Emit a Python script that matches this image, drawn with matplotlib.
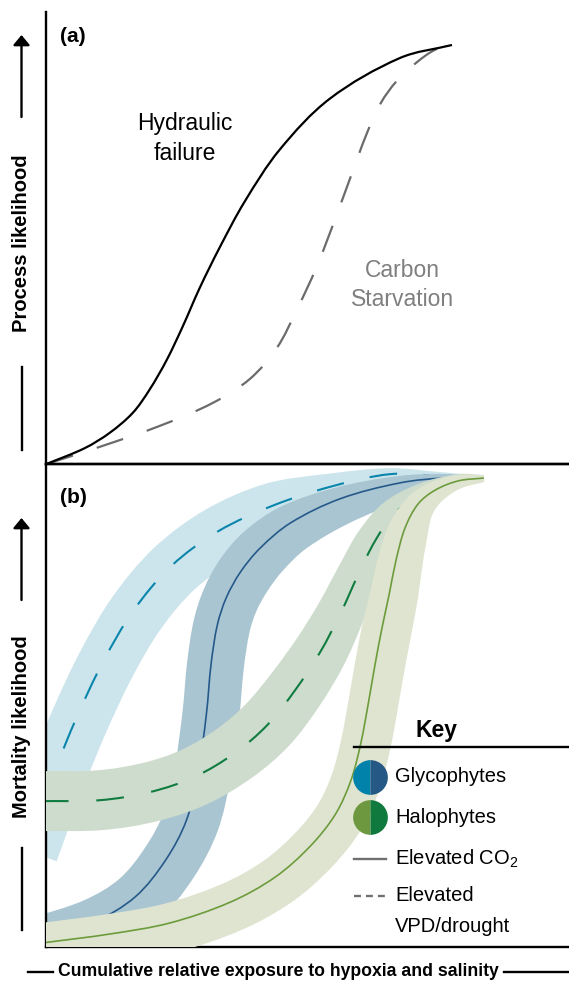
import numpy as np
import matplotlib
matplotlib.use("Agg")
import matplotlib.pyplot as plt
from matplotlib.path import Path
from matplotlib.patches import PathPatch
from matplotlib.lines import Line2D

plt.rcParams['font.family'] = ['Liberation Sans', 'DejaVu Sans']
plt.rcParams['mathtext.fontset'] = 'custom'
plt.rcParams['mathtext.rm'] = 'Liberation Sans'
plt.rcParams['mathtext.it'] = 'Liberation Sans:italic'
plt.rcParams['mathtext.bf'] = 'Liberation Sans:bold'
plt.rcParams['lines.scale_dashes'] = False

# ---------------- data (relative 0-100 scales) ----------------
# Panel (a): process likelihood vs. exposure
hydraulic_x = [0, 7.3, 12.1, 16.5, 19.7, 23.0, 26.1, 29.3, 33.1, 37.9, 44.6, 54.2, 67.6, 77.6]
hydraulic_y = [0, 3.5, 6.9, 11.3, 16.4, 23.0, 30.5, 38.9, 47.8, 58.0, 69.5, 80.8, 89.8, 92.7]
carbon_x = [0, 10.2, 21.6, 31.8, 38.9, 44.1, 47.9, 51.7, 55.6, 59.4, 61.5, 64.0,
            67.0, 70.9, 74.3, 77.6]
carbon_y = [0, 3.8, 8.4, 13.5, 18.8, 25.7, 34.1, 43.6, 55.3, 67.3, 73.7, 79.9,
            84.7, 88.9, 91.6, 92.7]

# Panel (b): mortality likelihood vs. exposure
gly_vpd_x = [-4.0, 1.4, 5.8, 10.8, 16.6, 23.9, 32.9, 43.6, 54.7, 65.8, 75.3, 83.7]
gly_vpd_y = [20.1, 36.0, 47.6, 59.0, 69.6, 78.9, 86.1, 91.5, 95.4, 97.9, 97.5, 96.9]
gly_co2_x = [-1.1, 9.2, 17.0, 22.8, 26.8, 29.1, 30.6, 31.5, 32.7, 34.4, 37.1, 40.9,
             46.7, 56.2, 67.7, 76.3, 83.6]
gly_co2_y = [1.4, 5.2, 10.4, 18.0, 26.3, 36.6, 48.2, 58.6, 66.7, 72.3, 77.6, 82.6,
             87.8, 92.8, 96.1, 97.1, 96.9]
hal_vpd_x = [-1.1, 10.3, 19.9, 28.3, 36.1, 42.3, 47.6, 52.4, 56.2, 59.7, 62.9, 66.7,
             72.5, 79.2, 83.7]
hal_vpd_y = [30.2, 30.4, 32.1, 35.2, 40.2, 46.0, 53.2, 61.1, 68.9, 77.2, 84.1, 89.9,
             94.2, 96.7, 97.1]
hal_co2_x = [-1.1, 12.2, 23.7, 35.2, 43.8, 50.5, 55.3, 58.3, 60.2, 61.6, 62.9, 64.2,
             65.6, 66.9, 68.6, 71.1, 74.4, 78.8, 83.7]
hal_co2_y = [0.8, 2.7, 5.0, 9.3, 14.5, 20.9, 27.5, 34.6, 42.4, 50.5, 58.6, 66.0,
             73.1, 80.1, 86.7, 91.7, 94.6, 96.5, 97.1]

# band half-widths (upper / lower side), in pixels
gly_vpd_wu = [25, 25, 25, 25, 25, 25, 25, 23, 13, 6, 4, 3]
gly_vpd_wd = [33, 33, 33, 33, 33, 33, 33, 29, 24, 16, 9, 3]
gly_co2_wu = [24, 24, 24, 24, 24, 24, 24, 24, 24, 24, 24, 23, 19, 12, 7, 4, 2]
gly_co2_wd = [33, 33, 33, 33, 33, 33, 33, 33, 33, 33, 33, 32, 30, 26, 18, 10, 3]
hal_vpd_wu = [30, 30, 30, 30, 30, 30, 29, 27, 24, 21, 19, 15, 10, 6, 3]
hal_vpd_wd = [30, 30, 30, 30, 30, 30, 29, 27, 24, 21, 19, 15, 10, 6, 3]
hal_co2_wu = [20, 20, 20, 20, 20, 20, 20, 20, 20, 20, 20, 20, 19, 18, 16, 12, 9, 6, 3]
hal_co2_wd = [30, 30, 30, 30, 30, 30, 30, 30, 30, 30, 30, 30, 29, 27, 24, 18, 13, 8, 4]


# ---------------- helpers ----------------
def bezier_through(P, first=True):
    """Smooth cubic Bezier path through points P (display coords)."""
    P = np.asarray(P, float)
    T = np.zeros_like(P)
    T[1:-1] = P[2:] - P[:-2]
    T[0] = P[1] - P[0]
    T[-1] = P[-1] - P[-2]
    T /= np.linalg.norm(T, axis=1)[:, None]
    verts = [P[0]]
    codes = [Path.MOVETO if first else Path.LINETO]
    for i in range(len(P) - 1):
        d = np.linalg.norm(P[i + 1] - P[i])
        verts += [P[i] + T[i] * d / 3, P[i + 1] - T[i + 1] * d / 3, P[i + 1]]
        codes += [Path.CURVE4] * 3
    return verts, codes


def curve(ax, xs, ys, color, lw, ls='-', z=2):
    pts = ax.transData.transform(np.column_stack([xs, ys]))
    v, c = bezier_through(pts)
    v = ax.transData.inverted().transform(np.array(v))
    ax.add_patch(PathPatch(Path(v, c), fill=False, ec=color, lw=lw, ls=ls,
                           zorder=z, capstyle='butt', joinstyle='round'))


def band(ax, xs, ys, wu, wd, color, z):
    s = ax.figure.dpi / 100.0
    pts = ax.transData.transform(np.column_stack([xs, ys]))
    t = np.gradient(pts, axis=0)
    t /= np.linalg.norm(t, axis=1)[:, None]
    nrm = np.column_stack([-t[:, 1], t[:, 0]])
    U = pts + nrm * (np.asarray(wu, float)[:, None] * s)
    D = (pts - nrm * (np.asarray(wd, float)[:, None] * s))[::-1]
    v1, c1 = bezier_through(U)
    v2, c2 = bezier_through(D, first=False)
    verts = np.array(v1 + v2 + [v1[0]])
    codes = c1 + c2 + [Path.CLOSEPOLY]
    verts = ax.transData.inverted().transform(verts)
    ax.add_patch(PathPatch(Path(verts, codes), fc=color, ec='none', zorder=z))


# ---------------- figure ----------------
W, H = 569, 984
fig = plt.figure(figsize=(W / 100, H / 100), dpi=100)
fx = lambda px: px / W
fy = lambda py: 1 - py / H

x0 = 46.5
axA = fig.add_axes([fx(x0), fy(464), 1 - fx(x0), (464 - 12) / H])
axB = fig.add_axes([fx(x0), fy(947), 1 - fx(x0), (947 - 464) / H])
for ax in (axA, axB):
    ax.set_xlim(0, 100)
    ax.set_ylim(0, 100)
    ax.set_xticks([])
    ax.set_yticks([])
    for sp in ax.spines.values():
        sp.set_linewidth(1.7)
    ax.spines['right'].set_visible(False)
    ax.patch.set_alpha(0)
axA.spines['top'].set_visible(False)

# ---- panel (a) ----
curve(axA, carbon_x, carbon_y, '#6b6b6b', 1.6, (0, (20, 18)), z=2)
curve(axA, hydraulic_x, hydraulic_y, 'black', 1.6, '-', z=3)
axA.text(0.026, 0.945, '(a)', transform=axA.transAxes, fontsize=15,
         fontweight='bold', ha='left', va='center')
axA.text(0.265, 0.754, 'Hydraulic', transform=axA.transAxes, fontsize=16.5,
         ha='center', va='center')
axA.text(0.265, 0.688, 'failure', transform=axA.transAxes, fontsize=16.5,
         ha='center', va='center')
axA.text(0.682, 0.429, 'Carbon', transform=axA.transAxes, fontsize=16.5,
         ha='center', va='center', color='#7f7f7f')
axA.text(0.682, 0.363, 'Starvation', transform=axA.transAxes, fontsize=16.5,
         ha='center', va='center', color='#7f7f7f')

# ---- panel (b) ----
c_gly_vpd, b_gly_vpd = '#0A85AB', '#CCE5EC'
c_gly_co2, b_gly_co2 = '#25598A', '#A9C5D1'
c_hal_vpd, b_hal_vpd = '#107C3F', '#CEDCCD'
c_hal_co2, b_hal_co2 = '#6C9B3C', '#DFE4D0'

band(axB, gly_vpd_x, gly_vpd_y, gly_vpd_wu, gly_vpd_wd, b_gly_vpd, 1)
curve(axB, gly_vpd_x, gly_vpd_y, c_gly_vpd, 1.5, (0, (20, 19)), z=1.1)
band(axB, gly_co2_x, gly_co2_y, gly_co2_wu, gly_co2_wd, b_gly_co2, 2)
curve(axB, gly_co2_x, gly_co2_y, c_gly_co2, 1.2, '-', z=2.1)
band(axB, hal_vpd_x, hal_vpd_y, hal_vpd_wu, hal_vpd_wd, b_hal_vpd, 3)
curve(axB, hal_vpd_x, hal_vpd_y, c_hal_vpd, 1.5, (0, (20, 20)), z=3.1)
band(axB, hal_co2_x, hal_co2_y, hal_co2_wu, hal_co2_wd, b_hal_co2, 4)
curve(axB, hal_co2_x, hal_co2_y, c_hal_co2, 1.2, '-', z=4.1)

axB.text(0.026, 0.930, '(b)', transform=axB.transAxes, fontsize=15,
         fontweight='bold', ha='left', va='center', zorder=6)

# key
T = axB.transAxes
axB.text(0.747, 0.449, 'Key', transform=T, fontsize=16.5, fontweight='bold',
         ha='center', va='center', zorder=6)
axB.plot([0.589, 1.0], [0.414, 0.414], color='black', lw=1.7, transform=T,
         clip_on=False, zorder=6)
axB.plot([0.619], [0.352], marker='o', ms=25, fillstyle='left', mfc='#0082AA',
         mfcalt='#255884', mec='none', transform=T, clip_on=False, zorder=6)
axB.plot([0.619], [0.269], marker='o', ms=25, fillstyle='left', mfc='#6E9840',
         mfcalt='#107A3E', mec='none', transform=T, clip_on=False, zorder=6)
axB.plot([0.589, 0.650], [0.182, 0.182], color='#707070', lw=1.7, transform=T,
         clip_on=False, zorder=6)
axB.plot([0.589, 0.650], [0.106, 0.106], color='#707070', lw=1.7,
         ls=(0, (5, 3.6)), transform=T, clip_on=False, zorder=6)
kw = dict(transform=T, fontsize=14.5, ha='left', va='center', zorder=6)
axB.text(0.667, 0.352, 'Glycophytes', **kw)
axB.text(0.667, 0.269, 'Halophytes', **kw)
axB.text(0.667, 0.182, 'Elevated CO$_2$', **kw)
axB.text(0.667, 0.106, 'Elevated', **kw)
axB.text(0.667, 0.043, 'VPD/drought', **kw)


# ---- axis labels with arrows ----
def ylab(text, cy, low, high_start, high_tip):
    fig.text(fx(22), fy(cy), text, rotation=90, fontsize=14.5, fontweight='bold',
             ha='center', va='center')
    fig.add_artist(Line2D([fx(21.5), fx(21.5)], [fy(low[0]), fy(low[1])],
                          color='black', lw=1.7))
    axA.annotate('', xy=(fx(21.5), fy(high_tip)), xytext=(fx(21.5), fy(high_start)),
                 xycoords='figure fraction', textcoords='figure fraction',
                 arrowprops=dict(arrowstyle='-|>,head_width=0.5,head_length=0.6',
                                 color='black', lw=1.7, shrinkA=0, shrinkB=0))


ylab('Process likelihood', 243, (367, 450), 117, 35)
ylab('Mortality likelihood', 727, (848, 930), 600, 518)

fig.text(fx(278), fy(972), 'Cumulative relative exposure to hypoxia and salinity',
         fontsize=12.7, fontweight='bold', ha='center', va='center')
fig.add_artist(Line2D([fx(28), fx(53)], [fy(972), fy(972)], color='black', lw=1.7))
fig.add_artist(Line2D([fx(504), fx(569)], [fy(972), fy(972)], color='black', lw=1.7))

fig.savefig('out.png', dpi=100)
